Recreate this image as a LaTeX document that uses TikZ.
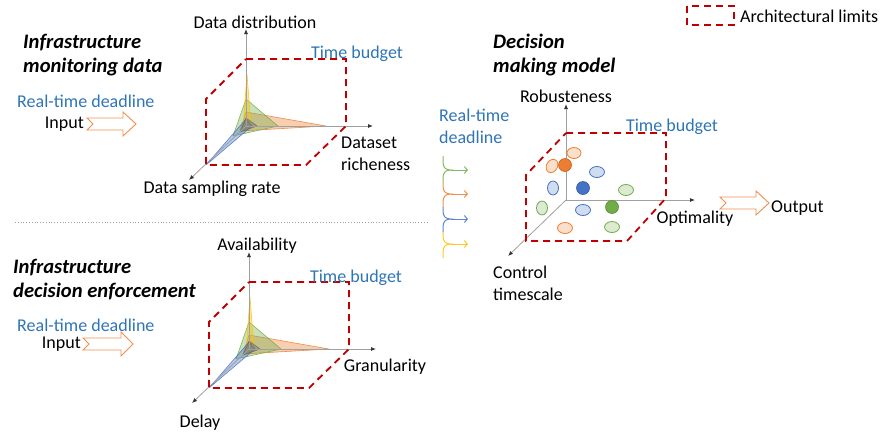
\documentclass[tikz,border=0pt]{standalone}
\usepackage{fontspec}
\setmainfont{Carlito}
\usetikzlibrary{arrows.meta}
\definecolor{limred}{RGB}{192,0,0}
\definecolor{tblue}{RGB}{46,117,182}
\definecolor{corange}{RGB}{237,125,49}
\definecolor{cgreen}{RGB}{112,173,71}
\definecolor{cblue}{RGB}{68,114,196}
\definecolor{cyellow}{RGB}{255,192,0}
\definecolor{cgray}{RGB}{100,100,100}
\definecolor{axisgray}{RGB}{160,160,160}
\tikzset{
  lbl/.style={font=\fontsize{18}{22}\selectfont, inner sep=0pt, align=left},
  blbl/.style={lbl, text=tblue},
  heading/.style={font=\fontsize{20.6}{24}\selectfont\bfseries\itshape, inner sep=0pt, align=left},
  axisline/.style={draw=axisgray, line width=0.8pt, -{Latex[length=5pt,width=4pt,color=black!80]}},
  limit/.style={draw=limred, line width=1.8pt, dash pattern=on 7pt off 5pt, line join=miter},
  petal/.style={draw=#1, fill=#1, fill opacity=0.38, draw opacity=0.85, line width=0.6pt, line join=round},
  lightdot/.style={draw=#1, fill=#1!25!white, line width=0.8pt},
  fulldot/.style={draw=#1!80!black, fill=#1, line width=0.6pt},
  blockarrow/.style={draw=corange!85, line width=0.9pt, fill=white, line join=miter},
  brace/.style={draw=#1, line width=1pt, draw opacity=0.85},
  bracearrow/.style={draw=#1, line width=1pt, draw opacity=0.85, -{Straight Barb[length=3pt,width=7pt]}},
  sepline/.style={draw=axisgray, line width=0.8pt, dotted}
}
% block arrow: #1 x start, #2 x end, #3 y centre, #4 x where head starts
\newcommand\myblockarrow[4]{%
  \draw[blockarrow] (#1,{#3-6}) -- (#4,{#3-6}) -- (#4,{#3-12}) -- (#2,#3)
    -- (#4,{#3+12}) -- (#4,{#3+6}) -- (#1,{#3+6}) -- ({#1+6},#3) -- cycle;}
% spider chart drawn around (0,0); #1 = name prefix
\newcommand\myspider[1]{%
  \coordinate (#1o) at (0,0);
  \coordinate (#1t) at (0,-97);
  \coordinate (#1r) at (127,0);
  \coordinate (#1d) at (-57,54);
  \draw[petal=corange] (0,-14) -- (80,0) -- (-6,5) -- cycle;
  \draw[petal=cgreen] (0,-27) -- (32,0) -- (-13,10) -- cycle;
  \draw[petal=cyellow] (1,-52) -- (5,0) -- (-3,3) -- cycle;
  \draw[petal=cblue] (0,-7) -- (6,0) -- (-40,39) -- cycle;
  \draw[petal=cgray] (0,-8) -- (11,0) -- (-6,6) -- cycle;
  \draw[axisline] (#1o) -- (#1t);
  \draw[axisline] (#1o) -- (#1r);
  \draw[axisline] (#1o) -- (#1d);
  \draw[limit] (0,-67) -- (100,-67) -- (100,0) -- (60,39) -- (-40,39) -- (-40,-27) -- cycle;
}
\begin{document}
\begin{tikzpicture}[x=1pt,y=-1pt]
\useasboundingbox (0,0) rectangle (881,437);

% ---------- top-left block ----------
\node[heading, anchor=west] (h1) at (23,55) {Infrastructure\\monitoring data};
\node[blbl, anchor=west] (rt1) at (17,101) {Real-time deadline};
\node[lbl, anchor=east] (in1) at (84,124) {Input};
\myblockarrow{87}{136}{124}{123}

\begin{scope}[shift={(246,126)}]
  \myspider{a}
\end{scope}
\node[lbl] (a-lt) at (255,22) {Data distribution};
\node[blbl] (a-tb) at (357,54) {Time budget};
\node[lbl, anchor=west] (a-lr) at (341,154) {Dataset\\richeness};
\node[lbl] (a-ld) at (212,189) {Data sampling rate};

% separator
\coordinate (sepL) at (15,222);
\coordinate (sepR) at (428,222);
\draw[sepline] (sepL) -- (sepR);

% ---------- bottom-left block ----------
\node[heading, anchor=west] (h2) at (13,280) {Infrastructure\\decision enforcement};
\node[blbl, anchor=west] (rt2) at (17,325) {Real-time deadline};
\node[lbl, anchor=east] (in2) at (81,344) {Input};
\myblockarrow{83}{133}{344}{121}

\begin{scope}[shift={(249,349)}]
  \myspider{b}
\end{scope}
\node[lbl] (b-lt) at (257,246) {Availability};
\node[blbl] (b-tb) at (356,278) {Time budget};
\node[lbl] (b-lr) at (385,367) {Granularity};
\node[lbl] (b-ld) at (200,423) {Delay};

% ---------- right block ----------
\node[heading, anchor=west] (h3) at (493,55) {Decision\\making model};
\node[blbl, anchor=west] (rt3) at (439,126) {Real-time\\deadline};

% braces with arrows
\foreach \c/\ya/\ym/\yb [count=\i] in {cgreen/156/170/182, corange/182/194/207, cblue/207/219/232, cyellow/232/244/258}{
  \coordinate (w\i) at (451,\ym);
  \coordinate (we\i) at (468,\ym);
  \draw[brace=\c] (443,\ya) -- (443,{\ym-8}) .. controls (443,{\ym-2}) and (446,\ym) .. (w\i)
     .. controls (446,\ym) and (443,{\ym+2}) .. (443,{\ym+8}) -- (443,\yb);
  \draw[bracearrow=\c] (w\i) -- (we\i);
}

\coordinate (co) at (566,200);
\coordinate (ct) at (566,104);
\coordinate (cr) at (695,200);
\coordinate (cd) at (508,256);
\draw[axisline] (co) -- (ct);
\draw[axisline] (co) -- (cr);
\draw[axisline] (co) -- (cd);
\draw[limit] (566,133) -- (666,133) -- (666,198) -- (627,241) -- (526,241) -- (526,175) -- cycle;

% points
\draw[lightdot=corange] (574,153) ellipse [x radius=7pt, y radius=5.5pt];
\draw[lightdot=corange, rotate around={-30:(552,166)}] (552,166) ellipse [x radius=5.5pt, y radius=7pt];
\draw[fulldot=corange] (565,165) circle [radius=6.5pt];
\draw[lightdot=cblue] (597,172) ellipse [x radius=7.5pt, y radius=5.5pt];
\draw[lightdot=cblue] (553,188) ellipse [x radius=5.5pt, y radius=7pt];
\draw[fulldot=cblue] (583,188) circle [radius=6.5pt];
\draw[lightdot=cgreen] (626,190) ellipse [x radius=7.5pt, y radius=5.5pt];
\draw[lightdot=cgreen] (542,208) ellipse [x radius=5.5pt, y radius=7pt];
\draw[lightdot=cblue] (583,210) ellipse [x radius=7.5pt, y radius=5.5pt];
\draw[fulldot=cgreen] (612,207) circle [radius=6.5pt];
\draw[lightdot=corange] (565,228) ellipse [x radius=7.5pt, y radius=5.5pt];
\draw[lightdot=cgreen] (612,227) ellipse [x radius=7.5pt, y radius=5.5pt];

\node[lbl] (c-lt) at (566,96) {Robusteness};
\node[blbl] (c-tb) at (672,127) {Time budget};
\node[lbl] (c-lr) at (695,219) {Optimality};
\node[lbl, anchor=west] (c-ld) at (493,283) {Control\\timescale};

\myblockarrow{720}{769}{203}{756}
\node[lbl, anchor=west] (out) at (771,208) {Output};

% legend
\draw[limit] (687,6) rectangle (734,25);
\node[lbl, anchor=west] (leg) at (740,16) {Architectural limits};
\end{tikzpicture}
\end{document}
